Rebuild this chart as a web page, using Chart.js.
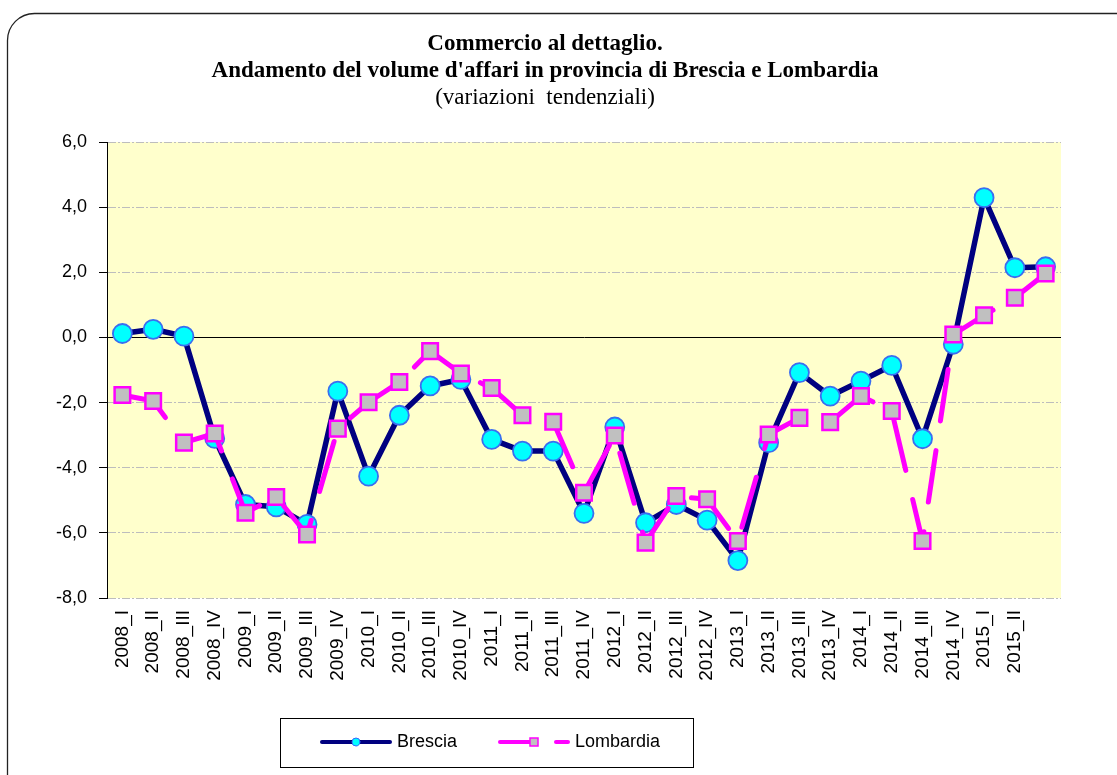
<!DOCTYPE html>
<html><head><meta charset="utf-8">
<script src="https://cdn.jsdelivr.net/npm/chart.js@4/dist/chart.umd.min.js"></script>
<style>html,body{margin:0;padding:0;background:#fff;overflow:hidden}#wrap{width:1117px;height:775px;position:relative}</style>
</head><body><div id="wrap"><canvas id="c" width="1117" height="775"></canvas></div>
<script>
const categories = ['2008_I','2008_II','2008_III','2008_IV','2009_I','2009_II','2009_III','2009_IV',
  '2010_I','2010_II','2010_III','2010_IV','2011_I','2011_II','2011_III','2011_IV',
  '2012_I','2012_II','2012_III','2012_IV','2013_I','2013_II','2013_III','2013_IV',
  '2014_I','2014_II','2014_III','2014_IV','2015_I','2015_II',''];
const brescia = [0.12, 0.25, 0.04, -3.1, -5.13, -5.2, -5.74, -1.65, -4.26, -2.39, -1.49, -1.29,
  -3.13, -3.49, -3.49, -5.4, -2.75, -5.69, -5.13, -5.61, -6.85, -3.23, -1.08, -1.8,
  -1.34, -0.86, -3.11, -0.21, 4.29, 2.14, 2.17];
const lombardia = [-1.77, -1.95, -3.23, -2.95, -5.38, -4.9, -6.05, -2.8, -1.99, -1.37, -0.42, -1.11,
  -1.55, -2.39, -2.59, -4.77, -3.01, -6.3, -4.87, -4.97, -6.25, -2.98, -2.47, -2.6,
  -1.8, -2.26, -6.25, 0.09, 0.68, 1.22, 1.96];
const seriesNames = ['Brescia', 'Lombardia'];
const titleLines = ['Commercio al dettaglio.', "Andamento del volume d'affari in provincia di Brescia e Lombardia"];
const subtitleText = '(variazioni  tendenziali)';
const yMin = -8, yMax = 6, yStep = 2;

const SANS = "'Liberation Sans', Arial, sans-serif";
const SERIF = "'Liberation Serif', 'Times New Roman', serif";

function drawLegendSample(c, kind, x0, y) {
  c.save();
  c.lineCap = 'round';
  if (kind === 0) {
    c.strokeStyle = '#000080'; c.lineWidth = 4;
    c.beginPath(); c.moveTo(x0 + 2, y); c.lineTo(x0 + 70, y); c.stroke();
    c.beginPath(); c.arc(x0 + 36, y, 4, 0, Math.PI * 2);
    c.fillStyle = '#00FFFF'; c.fill();
    c.strokeStyle = '#3366FF'; c.lineWidth = 1; c.stroke();
  } else {
    c.strokeStyle = '#FF00FF'; c.lineWidth = 4;
    c.beginPath(); c.moveTo(x0 + 2, y); c.lineTo(x0 + 34, y); c.stroke();
    c.beginPath(); c.moveTo(x0 + 58, y); c.lineTo(x0 + 70, y); c.stroke();
    c.fillStyle = '#C0C0C0'; c.fillRect(x0 + 32, y - 4, 8, 8);
    c.strokeStyle = '#FF00FF'; c.lineWidth = 1.5; c.strokeRect(x0 + 32, y - 4, 8, 8);
  }
  c.restore();
}

const decor = {
  id: 'decor',
  beforeDraw(chart) {
    const {ctx, chartArea: a} = chart;
    ctx.save();
    ctx.fillStyle = '#fff';
    ctx.fillRect(0, 0, chart.width, chart.height);
    ctx.strokeStyle = '#222'; ctx.lineWidth = 1.3;
    ctx.beginPath();
    ctx.roundRect(7.5, 13.5, 1300, 800, 27);
    ctx.stroke();
    ctx.fillStyle = '#FFFFCC';
    ctx.fillRect(a.left, a.top, a.right - a.left, a.bottom - a.top);
    ctx.restore();
  },
  afterDraw(chart) {
    const ctx = chart.ctx;
    ctx.save();
    ctx.strokeStyle = '#000'; ctx.lineWidth = 1;
    ctx.strokeRect(280.5, 718.5, 413, 49);
    ctx.font = '18px ' + SANS;
    ctx.fillStyle = '#000';
    ctx.textBaseline = 'middle';
    const ly = 742;
    const starts = [320, 498];
    seriesNames.forEach((n, i) => {
      drawLegendSample(ctx, i, starts[i], ly);
      ctx.fillText(n, starts[i] + 77, ly);
    });
    ctx.restore();
  }
};

new Chart(document.getElementById('c'), {
  type: 'line',
  data: {
    labels: categories,
    datasets: [
      {
        label: seriesNames[0], data: brescia, order: 1,
        borderColor: '#000080', borderWidth: 5.5, tension: 0,
        borderJoinStyle: 'round', borderCapStyle: 'round',
        pointStyle: 'circle', pointRadius: 9.5, pointBackgroundColor: '#00FFFF',
        pointBorderColor: '#3A6EF0', pointBorderWidth: 1.8
      },
      {
        label: seriesNames[1], data: lombardia, order: 0,
        borderColor: '#FF00FF', borderWidth: 5, tension: 0,
        borderDash: [52, 30], borderCapStyle: 'round', borderJoinStyle: 'round',
        pointStyle: 'rect', pointRadius: 11, pointBackgroundColor: '#C0C0C0',
        pointBorderColor: '#FF00FF', pointBorderWidth: 2.5
      }
    ]
  },
  options: {
    responsive: false, animation: false,
    layout: { padding: { left: 29, right: 56, top: 0, bottom: 0 } },
    plugins: {
      tooltip: { enabled: false },
      legend: { display: false },
      title: {
        display: true, text: titleLines, color: '#000',
        font: { family: SERIF, size: 23, weight: 'bold', lineHeight: 27 / 23 },
        padding: { top: 30.5, bottom: 0 }
      },
      subtitle: {
        display: true, text: subtitleText, color: '#000',
        font: { family: SERIF, size: 23, weight: 'normal', lineHeight: 27 / 23 },
        padding: { top: 0, bottom: 30.5 }
      }
    },
    scales: {
      x: {
        type: 'category', offset: true,
        grid: { display: false, drawTicks: false },
        border: { display: false },
        ticks: {
          autoSkip: false, minRotation: 90, maxRotation: 90, padding: 12,
          color: '#000', font: { family: SANS, size: 19 }
        },
        afterFit(s) { s.height = 177; }
      },
      y: {
        min: yMin, max: yMax,
        grid: {
          color: c => (c.tick && c.tick.value === 0) ? '#000000' : '#BDBDBD',
          lineWidth: 1, tickColor: '#000', tickLength: 8, drawTicks: true
        },
        border: {
          display: true, color: '#000', width: 1,
          dash: c => (c.tick && c.tick.value === 0) ? [] : [8, 2, 2, 2]
        },
        ticks: {
          stepSize: yStep, padding: 12, color: '#000', font: { family: SANS, size: 18 },
          callback: v => Number(v).toFixed(1).replace('.', ',')
        },
        afterFit(s) { s.width = 78; }
      }
    }
  },
  plugins: [decor]
});
</script>
</body></html>
